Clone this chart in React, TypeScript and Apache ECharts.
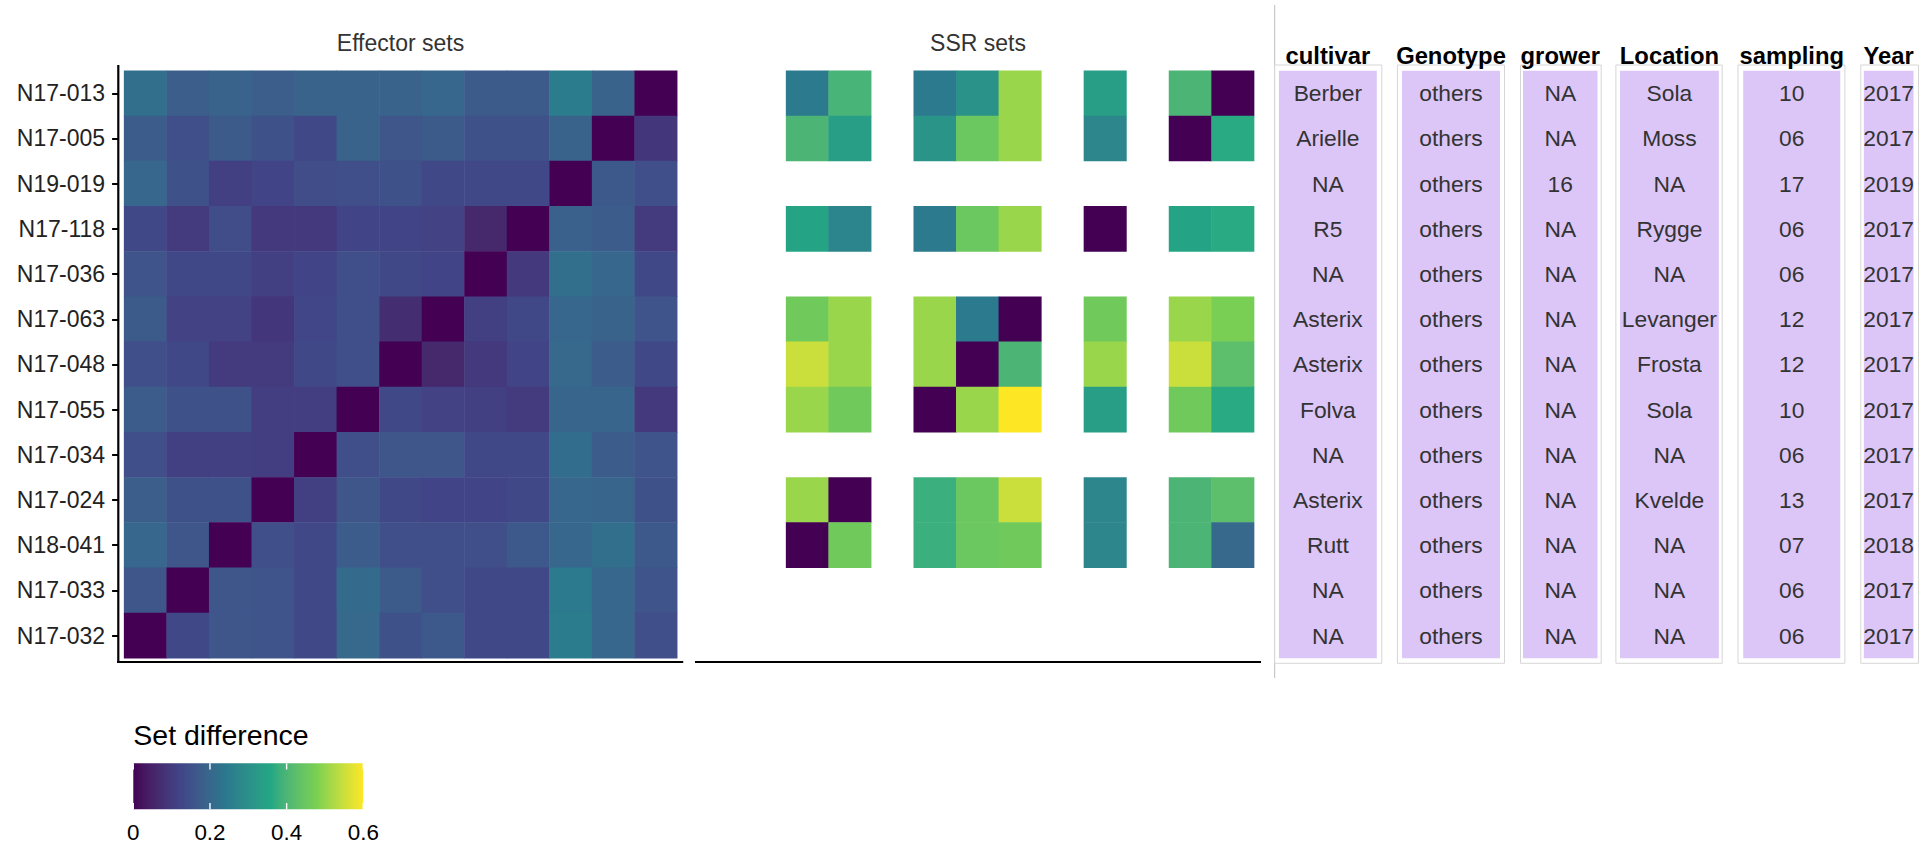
import { useEffect, useRef } from "react";
import * as echarts from "echarts";

// Isolates, top row first. Columns run in the opposite order so that the
// self-comparison diagonal goes from bottom-left to top-right.
const isolates = [
  "N17-013", "N17-005", "N19-019", "N17-118", "N17-036", "N17-063", "N17-048",
  "N17-055", "N17-034", "N17-024", "N18-041", "N17-033", "N17-032",
];
const columnIsolates = [...isolates].reverse();

// Set difference between effector sets (row isolate vs column isolate)
const effectorDiff: number[][] = [
  [0.22, 0.18, 0.19, 0.18, 0.19, 0.19, 0.19, 0.2, 0.17, 0.17, 0.25, 0.19, 0],
  [0.175, 0.145, 0.17, 0.15, 0.13, 0.19, 0.16, 0.17, 0.15, 0.15, 0.19, 0, 0.09],
  [0.2, 0.15, 0.11, 0.12, 0.14, 0.145, 0.15, 0.13, 0.13, 0.13, 0, 0.165, 0.145],
  [0.13, 0.1, 0.14, 0.095, 0.095, 0.12, 0.12, 0.115, 0.06, 0, 0.185, 0.175, 0.1],
  [0.155, 0.13, 0.13, 0.11, 0.12, 0.145, 0.13, 0.12, 0, 0.095, 0.22, 0.2, 0.13],
  [0.17, 0.115, 0.115, 0.09, 0.125, 0.145, 0.07, 0, 0.11, 0.13, 0.2, 0.19, 0.155],
  [0.145, 0.13, 0.1, 0.1, 0.13, 0.145, 0, 0.06, 0.095, 0.12, 0.205, 0.175, 0.13],
  [0.175, 0.15, 0.15, 0.105, 0.105, 0, 0.13, 0.115, 0.11, 0.1, 0.195, 0.195, 0.095],
  [0.145, 0.11, 0.11, 0.105, 0, 0.145, 0.16, 0.16, 0.13, 0.13, 0.215, 0.175, 0.155],
  [0.18, 0.15, 0.15, 0, 0.11, 0.16, 0.13, 0.12, 0.12, 0.13, 0.2, 0.195, 0.15],
  [0.2, 0.16, 0, 0.145, 0.13, 0.175, 0.145, 0.145, 0.145, 0.165, 0.2, 0.22, 0.165],
  [0.16, 0, 0.16, 0.155, 0.13, 0.21, 0.17, 0.145, 0.13, 0.13, 0.245, 0.2, 0.155],
  [0, 0.13, 0.16, 0.155, 0.13, 0.205, 0.15, 0.165, 0.13, 0.13, 0.25, 0.2, 0.145],
];

// Set difference between SSR sets; null where an isolate has no SSR data
const _ = null;
const ssrDiff: (number | null)[][] = [
  [_, _, 0.245, 0.395, _, 0.245, 0.305, 0.505, _, 0.335, _, 0.4, 0],
  [_, _, 0.4, 0.335, _, 0.31, 0.45, 0.505, _, 0.275, _, 0, 0.365],
  [_, _, _, _, _, _, _, _, _, _, _, _, _],
  [_, _, 0.35, 0.27, _, 0.245, 0.45, 0.505, _, 0, _, 0.35, 0.365],
  [_, _, _, _, _, _, _, _, _, _, _, _, _],
  [_, _, 0.46, 0.505, _, 0.505, 0.245, 0, _, 0.46, _, 0.505, 0.475],
  [_, _, 0.55, 0.505, _, 0.505, 0, 0.4, _, 0.505, _, 0.55, 0.425],
  [_, _, 0.505, 0.46, _, 0, 0.505, 0.6, _, 0.335, _, 0.46, 0.365],
  [_, _, _, _, _, _, _, _, _, _, _, _, _],
  [_, _, 0.505, 0, _, 0.38, 0.45, 0.55, _, 0.275, _, 0.4, 0.425],
  [_, _, 0, 0.46, _, 0.38, 0.45, 0.46, _, 0.275, _, 0.4, 0.205],
  [_, _, _, _, _, _, _, _, _, _, _, _, _],
  [_, _, _, _, _, _, _, _, _, _, _, _, _],
];

// Metadata table, one entry per isolate (same order as the rows)
const tableHeaders = ["cultivar", "Genotype", "grower", "Location", "sampling", "Year"];
const cultivar = ["Berber", "Arielle", "NA", "R5", "NA", "Asterix", "Asterix", "Folva", "NA", "Asterix", "Rutt", "NA", "NA"];
const genotype = ["others", "others", "others", "others", "others", "others", "others", "others", "others", "others", "others", "others", "others"];
const grower = ["NA", "NA", "16", "NA", "NA", "NA", "NA", "NA", "NA", "NA", "NA", "NA", "NA"];
const location = ["Sola", "Moss", "NA", "Rygge", "NA", "Levanger", "Frosta", "Sola", "NA", "Kvelde", "NA", "NA", "NA"];
const sampling = ["10", "06", "17", "06", "06", "12", "12", "10", "06", "13", "07", "06", "06"];
const year = ["2017", "2017", "2019", "2017", "2017", "2017", "2017", "2017", "2017", "2017", "2018", "2017", "2017"];
const tableValues = [cultivar, genotype, grower, location, sampling, year];

const panelTitles = ["Effector sets", "SSR sets"];
const legendTitle = "Set difference";
const legendTicks = [0, 0.2, 0.4, 0.6];
const scaleMin = 0;
const scaleMax = 0.6;

// ---- colour scale: six viridis anchors blended in CIELAB ----
const VIRIDIS_ANCHORS = ["#440154", "#414487", "#2A788E", "#22A884", "#7AD151", "#FDE725"];

function hexToLab(hex: string): number[] {
  const rgb = [1, 3, 5].map((i) => parseInt(hex.slice(i, i + 2), 16) / 255);
  const lin = rgb.map((c) => (c <= 0.04045 ? c / 12.92 : Math.pow((c + 0.055) / 1.055, 2.4)));
  const [r, g, b] = lin;
  const X = (0.4124564 * r + 0.3575761 * g + 0.1804375 * b) / 0.95047;
  const Y = 0.2126729 * r + 0.7151522 * g + 0.072175 * b;
  const Z = (0.0193339 * r + 0.119192 * g + 0.9503041 * b) / 1.08883;
  const f = (t: number) => (t > 0.008856 ? Math.cbrt(t) : 7.787 * t + 16 / 116);
  const fx = f(X), fy = f(Y), fz = f(Z);
  return [116 * fy - 16, 500 * (fx - fy), 200 * (fy - fz)];
}

function labToHex([L, a, bb]: number[]): string {
  const fy = (L + 16) / 116;
  const fx = fy + a / 500;
  const fz = fy - bb / 200;
  const inv = (t: number) => (t * t * t > 0.008856 ? t * t * t : (t - 16 / 116) / 7.787);
  const X = inv(fx) * 0.95047, Y = inv(fy), Z = inv(fz) * 1.08883;
  const lin = [
    3.2404542 * X - 1.5371385 * Y - 0.4985314 * Z,
    -0.969266 * X + 1.8760108 * Y + 0.041556 * Z,
    0.0556434 * X - 0.2040259 * Y + 1.0572252 * Z,
  ];
  return (
    "#" +
    lin
      .map((c) => {
        const s = c <= 0.0031308 ? 12.92 * c : 1.055 * Math.pow(c, 1 / 2.4) - 0.055;
        const v = Math.round(Math.min(1, Math.max(0, s)) * 255);
        return v.toString(16).padStart(2, "0");
      })
      .join("")
  );
}

const SCALE_COLORS: string[] = (() => {
  const labs = VIRIDIS_ANCHORS.map(hexToLab);
  const steps = 60;
  const out: string[] = [];
  for (let k = 0; k <= steps; k++) {
    const p = (k / steps) * (labs.length - 1);
    const i = Math.min(labs.length - 2, Math.floor(p));
    const f = p - i;
    out.push(labToHex(labs[i].map((v, j) => v + (labs[i + 1][j] - v) * f)));
  }
  return out;
})();

// ---- styling & layout ----
const FONT = '"Liberation Sans", Arial, Helvetica, sans-serif';

const HEAT_TOP = 70.7;
const HEAT_H = 587.5;
const HEAT_W = 553.1;
const EFF_LEFT = 124.1;
const SSR_LEFT = 701;
const ROW_H = HEAT_H / isolates.length;
const AXIS_Y = 662;

// column boxes of the metadata table: [outerLeft, outerRight, innerLeft, innerRight]
const tableBoxes: [number, number, number, number][] = [
  [1274.7, 1381.8, 1278.9, 1376.8],
  [1397.4, 1504.5, 1402, 1500],
  [1520.5, 1601.2, 1523, 1597.5],
  [1615.9, 1722.2, 1620, 1718.8],
  [1738, 1844.9, 1743.2, 1840.3],
  [1860.8, 1918.5, 1863.8, 1913.5],
];

const LEGEND = { x: 133.3, y: 763.3, w: 230, h: 46 };

function text(x: number, y: number, str: string, size: number, color: string, align = "center", weight = "normal") {
  return {
    type: "text",
    x,
    y,
    silent: true,
    style: {
      text: str,
      fill: color,
      fontSize: size,
      fontFamily: FONT,
      fontWeight: weight,
      textAlign: align,
      textVerticalAlign: "middle",
    },
  };
}

function line(x1: number, y1: number, x2: number, y2: number, color: string, width: number) {
  return {
    type: "line",
    silent: true,
    shape: { x1, y1, x2, y2 },
    style: { stroke: color, lineWidth: width },
  };
}

function buildOption() {
  const effData = effectorDiff.flatMap((row, r) => row.map((v, c) => [c, r, v]));
  const ssrData = ssrDiff.flatMap((row, r) =>
    row.flatMap((v, c) => (v === null ? [] : [[c, r, v]]))
  );

  const graphics: any[] = [];

  // panel titles
  graphics.push(text(400.5, 43, panelTitles[0], 23, "#333333"));
  graphics.push(text(978, 43, panelTitles[1], 23, "#333333"));

  // axis lines of the two panels
  graphics.push(line(118.3, 65, 118.3, AXIS_Y + 1.1, "#000", 2.2));
  graphics.push(line(117.2, AXIS_Y, 683.2, AXIS_Y, "#000", 2.2));
  graphics.push(line(695, AXIS_Y, 1261, AXIS_Y, "#000", 2.2));

  // metadata table
  graphics.push(line(1274.7, 5, 1274.7, 678, "#bdbdbd", 1));
  tableBoxes.forEach(([ol, or, il, ir], i) => {
    graphics.push({
      type: "rect",
      silent: true,
      shape: { x: ol, y: 65, width: or - ol, height: 663.3 - 65 },
      style: { fill: "#ffffff", stroke: "#d6d6d6", lineWidth: 1 },
    });
    graphics.push({
      type: "rect",
      silent: true,
      shape: { x: il, y: HEAT_TOP, width: ir - il, height: HEAT_H },
      style: { fill: "#dcc6f7" },
    });
    const cx = (il + ir) / 2;
    graphics.push(text(cx, 55, tableHeaders[i], 23.8, "#000000", "center", "bold"));
    tableValues[i].forEach((v, r) => {
      graphics.push(text(cx, HEAT_TOP + ROW_H * (r + 0.5), v, 22.8, "#333333"));
    });
  });

  // colour bar legend
  graphics.push(text(LEGEND.x, 734.8, legendTitle, 28.5, "#000000", "left"));
  graphics.push({
    type: "rect",
    silent: true,
    shape: { x: LEGEND.x, y: LEGEND.y, width: LEGEND.w, height: LEGEND.h },
    style: {
      fill: {
        type: "linear",
        x: 0,
        y: 0,
        x2: 1,
        y2: 0,
        colorStops: SCALE_COLORS.map((c, i) => ({ offset: i / (SCALE_COLORS.length - 1), color: c })),
      },
    },
  });
  legendTicks.forEach((t) => {
    const x = LEGEND.x + ((t - scaleMin) / (scaleMax - scaleMin)) * LEGEND.w;
    graphics.push(line(x, LEGEND.y, x, LEGEND.y + 6.2, "#ffffff", 1.4));
    graphics.push(line(x, LEGEND.y + LEGEND.h - 6.2, x, LEGEND.y + LEGEND.h, "#ffffff", 1.4));
    graphics.push(text(x, 832.8, String(t), 22.4, "#000000"));
  });

  return {
    animation: false,
    backgroundColor: "#ffffff",
    grid: [
      { left: EFF_LEFT, top: HEAT_TOP, width: HEAT_W, height: HEAT_H },
      { left: SSR_LEFT, top: HEAT_TOP, width: HEAT_W, height: HEAT_H },
    ],
    xAxis: [
      { gridIndex: 0, type: "category", data: columnIsolates, show: false },
      { gridIndex: 1, type: "category", data: columnIsolates, show: false },
    ],
    yAxis: [
      {
        gridIndex: 0,
        type: "category",
        data: isolates,
        inverse: true,
        offset: 6,
        axisLine: { show: false },
        axisTick: { show: true, alignWithLabel: true, length: 6, lineStyle: { color: "#000", width: 2 } },
        axisLabel: { fontSize: 23, color: "#222222", margin: 13, fontFamily: FONT },
        splitLine: { show: false },
      },
      { gridIndex: 1, type: "category", data: isolates, inverse: true, show: false },
    ],
    visualMap: {
      type: "continuous",
      min: scaleMin,
      max: scaleMax,
      show: false,
      seriesIndex: [0, 1],
      inRange: { color: SCALE_COLORS },
    },
    series: [
      {
        name: panelTitles[0],
        type: "heatmap",
        xAxisIndex: 0,
        yAxisIndex: 0,
        data: effData,
        silent: true,
        emphasis: { disabled: true },
      },
      {
        name: panelTitles[1],
        type: "heatmap",
        xAxisIndex: 1,
        yAxisIndex: 1,
        data: ssrData,
        silent: true,
        emphasis: { disabled: true },
      },
    ],
    graphic: graphics,
  };
}

export default function App() {
  const ref = useRef<HTMLDivElement>(null);
  useEffect(() => {
    document.body.style.margin = "0";
    const chart = echarts.init(ref.current!, null, { renderer: "svg" });
    chart.setOption(buildOption() as any);
    return () => chart.dispose();
  }, []);
  return <div ref={ref} style={{ width: 1919, height: 846 }} />;
}
